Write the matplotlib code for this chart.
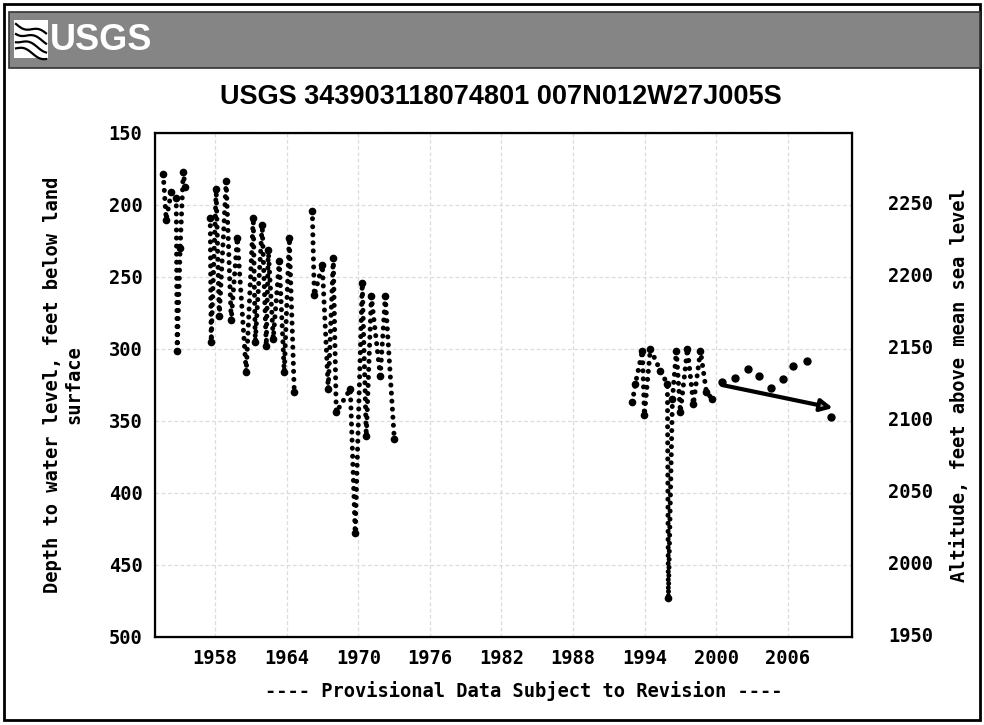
import matplotlib
matplotlib.use("Agg")
import numpy as np
import matplotlib.pyplot as plt
from matplotlib.patches import Rectangle
from matplotlib.lines import Line2D

nan = np.nan

# depth to water (ft below land surface), NaN = gap in record
years = [1953.64, 1953.89, 1954.31, 1954.73, 1954.81, 1955.06, 1955.32, 1955.48, nan,
         1957.58, 1957.66, 1958.08, 1958.34, 1958.92, 1959.34, 1959.85, 1960.60,
         1961.19, 1961.36, 1961.94, 1962.28, 1962.45, 1962.87, 1963.37, 1963.79,
         1964.21, 1964.63, nan,
         1966.14, 1966.31, 1966.98, 1967.48, 1967.90, 1968.15,
         1969.33, 1969.74, 1970.33, 1970.67, 1971.09, 1971.84, 1972.26, 1973.02, nan,
         1992.98, 1993.23, 1993.82, 1993.99, 1994.49, 1995.33, 1995.92, 1996.00,
         1996.34, 1996.67, 1997.01, 1997.60, 1998.10, 1998.69, 1999.19, 1999.69]
depth = [178.7, 210.2, 191.3, 194.8, 301.2, 229.8, 177.3, 187.8, nan,
         208.8, 294.9, 189.2, 277.4, 183.6, 280.2, 222.8, 315.9,
         208.8, 294.9, 213.7, 297.7, 231.2, 292.8, 238.9, 315.9,
         222.8, 329.9, nan,
         203.9, 262.7, 241.7, 327.8, 236.8, 343.9,
         327.8, 427.9, 254.3, 360.7, 263.4, 318.7, 263.4, 362.8, nan,
         336.9, 324.3, 301.2, 346.0, 299.8, 315.2, 324.3, 472.7,
         334.8, 301.2, 343.9, 299.8, 338.3, 301.2, 329.9, 334.8]

recent_years = [2000.5, 2001.62, 2002.72, 2003.64, 2004.64, 2005.65, 2006.49, 2007.66, 2009.6]
recent_depth = [323.0, 320.0, 313.8, 318.7, 327.1, 320.8, 311.7, 308.2, 347.4]

trend_start = (2000.5, 325.0)
trend_end = (2009.8, 341.0)

x_ticks = [1958, 1964, 1970, 1976, 1982, 1988, 1994, 2000, 2006]
y_ticks = [150, 200, 250, 300, 350, 400, 450, 500]
alt_ticks = [1950, 2000, 2050, 2100, 2150, 2200, 2250]
land_surface = 2448

W, H = 984, 725
mono = {"family": "DejaVu Sans Mono", "weight": "bold"}
fsz = 13.5
narrow = ["Liberation Sans Narrow", "Liberation Sans", "DejaVu Sans"]


def fx(px):
    return px / W


def fy(py):
    return 1 - py / H


fig = plt.figure(figsize=(W / 100, H / 100), dpi=100)
fig.patch.set_facecolor("white")

# outer frame and USGS banner
fig.add_artist(Rectangle((fx(4), fy(720)), fx(976), 716 / H, fill=False, ec="black", lw=2))
fig.add_artist(Rectangle((fx(9), fy(68)), fx(971), 56 / H, fc="#858585", ec="#333333", lw=1.2))
fig.add_artist(Rectangle((fx(14), fy(58)), fx(34), 38 / H, fc="white", ec="none"))
for k in range(4):
    t = np.linspace(0, 1, 20)
    xs = 16 + 30 * t
    ys = 24 + 8 * k + 10 * t + 2.5 * np.sin(t * 6 + k)
    fig.add_artist(Line2D(fx(xs), fy(ys), color="black", lw=1.6))
fig.text(fx(50), fy(40), "USGS", color="white", fontsize=26, fontweight="bold",
         family=narrow, ha="left", va="center")

fig.text(fx(501), fy(97), "USGS 343903118074801 007N012W27J005S", fontsize=19.5,
         fontweight="bold", family=narrow, ha="center", va="center")

ax = fig.add_axes([fx(155), fy(637), fx(852 - 155), (637 - 133) / H])
ax.plot(years, depth, color="black", lw=3.6, linestyle=(0, (0.01, 1.6)),
        dash_capstyle="round")
ax.plot(years, depth, "o", color="black", ms=4.5, ls="none")
ax.plot(recent_years, recent_depth, "o", color="black", ms=5, ls="none")
ax.annotate("", xy=trend_end, xytext=trend_start,
            arrowprops=dict(arrowstyle="-|>", lw=3, fc="#b0b0b0",
                            ec="black", mutation_scale=18, shrinkA=0, shrinkB=0))

ax.set_xlim(1952.95, 2011.4)
ax.set_ylim(500, 150)
ax.set_xticks(x_ticks)
ax.set_yticks(y_ticks)
ax.grid(True, color="#dcdcdc", lw=0.9, ls=(0, (3, 2)))
ax.tick_params(length=0, pad=9)
for lab in ax.get_xticklabels() + ax.get_yticklabels():
    lab.set_fontproperties(mono)
    lab.set_fontsize(fsz)
for s in ax.spines.values():
    s.set_linewidth(1.6)
ax.set_ylabel("Depth to water level, feet below land\nsurface", fontsize=fsz,
              labelpad=18, **mono)

ax2 = ax.twinx()
ax2.set_ylim(land_surface - 500, land_surface - 150)
ax2.set_yticks(alt_ticks)
ax2.tick_params(length=0, pad=26)
for lab in ax2.get_yticklabels():
    lab.set_fontproperties(mono)
    lab.set_fontsize(fsz)
ax2.set_ylabel("Altitude, feet above mean sea level", fontsize=fsz, labelpad=12, **mono)

fig.text(fx(524), fy(691), "---- Provisional Data Subject to Revision ----",
         fontsize=fsz, ha="center", va="center", **mono)

fig.savefig("out.png", dpi=100)
